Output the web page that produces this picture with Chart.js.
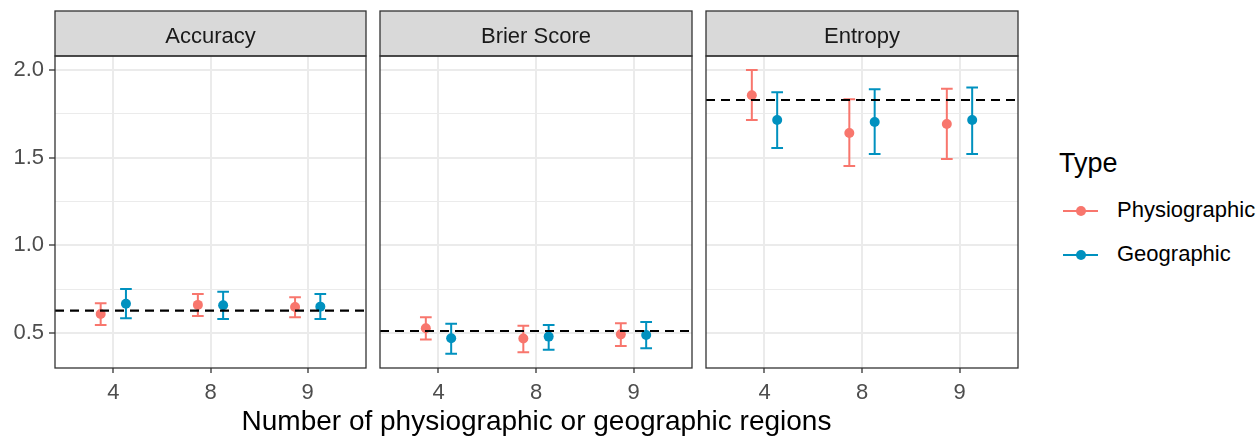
<!DOCTYPE html>
<html>
<head>
<meta charset="utf-8">
<script src="https://cdn.jsdelivr.net/npm/chart.js@4/dist/chart.umd.min.js"></script>
<style>
  body { margin: 0; background: #fff; font-family: 'Liberation Sans', Arial, sans-serif; }
  #wrap { position: relative; width: 1257px; height: 437px; overflow: hidden; }
  canvas { position: absolute; top: 0; }
  .txt { position: absolute; white-space: nowrap; color: #000; }
  .key { position: absolute; width: 35px; height: 2px; }
  .dot { position: absolute; width: 10px; height: 10px; border-radius: 50%; }
</style>
</head>
<body>
<div id="wrap">
  <canvas id="c1" width="368" height="437" style="left:0px"></canvas>
  <canvas id="c2" width="316" height="437" style="left:378px"></canvas>
  <canvas id="c3" width="316" height="437" style="left:704px"></canvas>

  <div class="txt" style="left:55px; width:963px; text-align:center; top:407px; font-size:28px; line-height:28px;">Number of physiographic or geographic regions</div>

  <div class="txt" style="left:1059px; top:150px; font-size:27px; line-height:27px;">Type</div>
  <div class="key" style="left:1063px; top:210px; background:#F8766D;"></div>
  <div class="dot" style="left:1076px; top:206px; background:#F8766D;"></div>
  <div class="txt" style="left:1117px; top:199px; font-size:22px; line-height:22px;">Physiographic</div>
  <div class="key" style="left:1063px; top:254px; background:#0091BF;"></div>
  <div class="dot" style="left:1076px; top:250px; background:#0091BF;"></div>
  <div class="txt" style="left:1117px; top:243px; font-size:22px; line-height:22px;">Geographic</div>
</div>
<script>
// facet panels and x categories
const panelTitles = ['Accuracy', 'Brier Score', 'Entropy'];
const regionCounts = ['4', '8', '9'];

// [mean, lower, upper] for each region count
const accuracyPhysio = [[0.608, 0.545, 0.669], [0.660, 0.597, 0.722], [0.648, 0.589, 0.703]];
const accuracyGeo    = [[0.667, 0.584, 0.751], [0.658, 0.580, 0.735], [0.650, 0.580, 0.722]];
const brierPhysio    = [[0.527, 0.462, 0.589], [0.468, 0.390, 0.541], [0.492, 0.426, 0.555]];
const brierGeo       = [[0.470, 0.382, 0.553], [0.479, 0.404, 0.545], [0.488, 0.412, 0.562]];
const entropyPhysio  = [[1.856, 1.715, 2.000], [1.641, 1.452, 1.833], [1.692, 1.492, 1.893]];
const entropyGeo     = [[1.715, 1.555, 1.873], [1.703, 1.521, 1.890], [1.715, 1.521, 1.901]];

// dashed reference line per panel
const referenceLines = [0.627, 0.511, 1.829];

// y axis ticks
const yMajorTicks = [0.5, 1.0, 1.5, 2.0];
const yMinorTicks = [0.75, 1.25, 1.75];

const PHYSIO_COLOR = '#F8766D';
const GEO_COLOR = '#0091BF';
const DODGE = 0.13;
const CAP = 0.06;
const FONT = "'Liberation Sans', Arial, sans-serif";

// errorbars under the points
const errorBarPlugin = {
    id: 'errorBars',
    beforeDatasetsDraw(chart) {
        const ctx = chart.ctx;
        const xs = chart.scales.x, ys = chart.scales.y;
        chart.data.datasets.forEach(ds => {
            if (!ds.errLow) return;
            ctx.save();
            ctx.strokeStyle = ds.borderColor;
            ctx.lineWidth = 2;
            ds.data.forEach((p, i) => {
                const x = xs.getPixelForValue(p.x);
                const x0 = xs.getPixelForValue(p.x - CAP);
                const x1 = xs.getPixelForValue(p.x + CAP);
                const yl = ys.getPixelForValue(ds.errLow[i]);
                const yh = ys.getPixelForValue(ds.errHigh[i]);
                ctx.beginPath();
                ctx.moveTo(x, yl); ctx.lineTo(x, yh);
                ctx.moveTo(x0, yl); ctx.lineTo(x1, yl);
                ctx.moveTo(x0, yh); ctx.lineTo(x1, yh);
                ctx.stroke();
            });
            ctx.restore();
        });
    }
};

// panel border and grey strip with the facet title
const panelPlugin = {
    id: 'panelFrame',
    afterDraw(chart) {
        const ctx = chart.ctx;
        const a = chart.chartArea;
        ctx.save();
        ctx.fillStyle = '#D9D9D9';
        ctx.fillRect(a.left, 11, a.right - a.left, a.top - 11);
        ctx.strokeStyle = '#333333';
        ctx.lineWidth = 1.3;
        ctx.strokeRect(a.left, 11, a.right - a.left, a.top - 11);
        ctx.strokeRect(a.left, a.top, a.right - a.left, a.bottom - a.top);
        ctx.fillStyle = '#1A1A1A';
        ctx.font = '22px ' + FONT;
        ctx.textAlign = 'center';
        ctx.textBaseline = 'alphabetic';
        ctx.fillText(chart.options.plugins.panelFrame.title, (a.left + a.right) / 2, 42.5);
        ctx.restore();
    }
};

const isMajor = v => yMajorTicks.includes(v);

function seriesDataset(label, rows, offset, color) {
    return {
        type: 'scatter',
        label: label,
        data: rows.map((r, i) => ({ x: i + 1 + offset, y: r[0] })),
        errLow: rows.map(r => r[1]),
        errHigh: rows.map(r => r[2]),
        backgroundColor: color,
        borderColor: color,
        pointRadius: 5,
        pointBorderWidth: 0
    };
}

function makePanel(id, idx, physio, geo, showY) {
    const padLeft = showY ? 0 : 2;
    new Chart(document.getElementById(id), {
        type: 'scatter',
        data: {
            datasets: [
                {
                    type: 'line',
                    label: 'reference',
                    data: [{ x: 0.4, y: referenceLines[idx] }, { x: 3.6, y: referenceLines[idx] }],
                    borderColor: '#000000',
                    borderWidth: 2.2,
                    borderDash: [9, 6],
                    pointRadius: 0
                },
                seriesDataset('Physiographic', physio, -DODGE, PHYSIO_COLOR),
                seriesDataset('Geographic', geo, DODGE, GEO_COLOR)
            ]
        },
        options: {
            responsive: false,
            animation: false,
            layout: { autoPadding: false, padding: { top: 56, left: padLeft, right: 2, bottom: 0 } },
            plugins: {
                legend: { display: false },
                tooltip: { enabled: false },
                panelFrame: { title: panelTitles[idx] }
            },
            scales: {
                x: {
                    type: 'linear',
                    min: 0.4,
                    max: 3.6,
                    afterBuildTicks: s => { s.ticks = [1, 2, 3].map(v => ({ value: v })); },
                    afterFit: s => { s.height = 69; },
                    border: { display: false },
                    grid: { color: '#EBEBEB', lineWidth: 2, tickColor: '#333333', tickLength: 5, tickWidth: 1.3 },
                    ticks: {
                        callback: v => regionCounts[v - 1],
                        color: '#4D4D4D',
                        font: { family: FONT, size: 22 },
                        padding: 7,
                        maxRotation: 0
                    }
                },
                y: {
                    type: 'linear',
                    min: 0.3,
                    max: 2.08,
                    afterBuildTicks: s => {
                        s.ticks = yMajorTicks.concat(yMinorTicks).sort((a, b) => a - b).map(v => ({ value: v }));
                    },
                    afterFit: s => { s.width = showY ? 55 : 0; },
                    border: { display: false },
                    grid: {
                        color: '#EBEBEB',
                        lineWidth: c => (c.tick && isMajor(c.tick.value)) ? 2 : 1,
                        drawTicks: showY,
                        tickLength: 6,
                        tickWidth: 1.3,
                        tickColor: c => (c.tick && isMajor(c.tick.value)) ? '#333333' : 'rgba(0,0,0,0)'
                    },
                    ticks: {
                        display: showY,
                        callback: v => isMajor(v) ? v.toFixed(1) : '',
                        color: '#4D4D4D',
                        font: { family: FONT, size: 22 },
                        padding: 5
                    }
                }
            }
        },
        plugins: [errorBarPlugin, panelPlugin]
    });
}

makePanel('c1', 0, accuracyPhysio, accuracyGeo, true);
makePanel('c2', 1, brierPhysio, brierGeo, false);
makePanel('c3', 2, entropyPhysio, entropyGeo, false);
</script>
</body>
</html>
